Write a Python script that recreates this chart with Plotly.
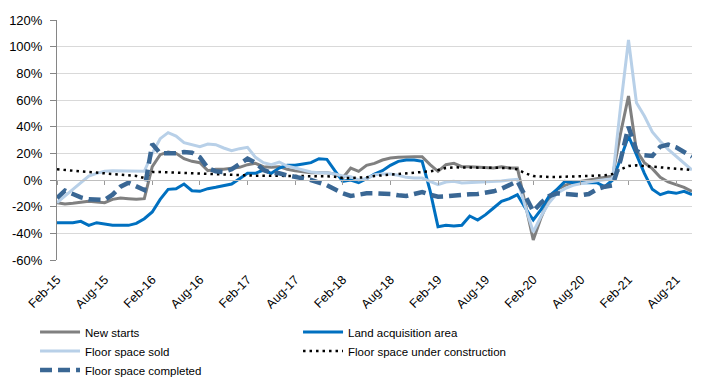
import pandas as pd
import plotly.graph_objects as go

months = pd.date_range("2015-02-01", periods=81, freq="MS").strftime("%b-%y").tolist()

new_starts = [-17, -18, -17.5, -16.5, -16, -16.5, -17, -14.5, -13.5, -14, -14.5, -14,
              10, 19, 21, 20, 16, 14, 13, 7, 8, 8, 8.5, 9.5, 11.5, 12.5, 10, 9.5, 10, 8,
              7, 6, 5.5, 5.5, 5.5, 4.5, 1.5, 9, 6.5, 11, 12.5, 15, 16.5, 17, 17.5, 17.5,
              17.5, 11.5, 6.5, 11.5, 12.5, 10, 10, 9.5, 9, 9, 10, 9, 9, -18, -45, -28,
              -14, -7, -4, -2, -1, 0, 1, 2.5, 3, 35, 63, 22, 13, 8.5, 2, -1.5, -3.5, -5.5, -8.5]

land_acq = [-32, -32, -32, -31, -34, -32, -33, -34, -34, -34, -32.5, -29, -24, -14.5,
            -7, -6.5, -3, -8, -8.5, -6.5, -5.5, -4, -3, 1, 5, 5, 7.5, 5, 9, 11, 11, 12, 13,
            16, 15.5, 7, -1, 0, -2, 1, 4.5, 7, 11, 14, 15, 15, 14, -8, -35, -34, -34.5, -34,
            -27, -30, -26, -21, -16, -14, -11, -21, -30, -22, -12, -7, -1, -2, -2, -2, -2,
            -5, 0, 16, 33, 19, 5, -7, -11, -9, -10, -8.5, -11]

floor_sold = [-17, -12, -7, -2, 3, 5, 6.5, 7, 7, 7, 7, 6.5, 20, 31, 35.5, 33, 28, 26.5,
              25, 27, 26.5, 24, 22, 23.5, 24.5, 17, 13, 11.5, 13.5, 10.5, 9, 8, 6, 5.5, 5.5,
              4.5, 3, 2.5, 0, 1, 4, 4.5, 4.5, 3.5, 2, 1.5, 1.5, -1, -3.5, -1.5, -1, -2.25,
              -2, -1.75, -1.25, -1, -0.75, 0, 0.5, -20, -39, -27, -17, -10, -6.5, -4, -2.5,
              -1.5, -0.5, 0, 1, 55, 105, 58, 48, 36, 29, 23, 18, 12.5, 7.5]

under_constr = [8, 7.5, 7, 6.5, 6, 5.5, 5, 4.5, 4, 3.5, 3, 1.5, 6, 6, 5.75, 5.5, 5.25, 5,
                4.75, 4.5, 4, 4, 3.5, 3.5, 3.25, 3.25, 3.25, 3.25, 3.25, 3, 3, 2.75, 2.75,
                2.75, 2.75, 2.5, 1.5, 1.5, 1.5, 2, 3, 3.5, 4, 4, 4.5, 5, 5.5, 6.5, 7.5, 9,
                9.5, 9.5, 9.5, 9.5, 9.5, 9, 9, 9, 8, 5, 3, 2.5, 2.25, 2.25, 2.5, 2.75, 2.75,
                3, 3, 3.5, 4.5, 8, 10.5, 11, 10.5, 10, 9.5, 9, 8.5, 8, 7.5]

completed = [-13.5, -8, -10.5, -13, -14.5, -14.75, -15, -11, -5, -2, -5, -7.5, 27, 20,
             20, 20, 21, 20.5, 17, 9, 6.5, 6, 8, 12.5, 16, 13, 7.5, 5.5, 5, 3.5, 2.5, 1.5,
             0, -2, -4, -7, -10, -12, -11, -10, -10, -10, -10.5, -11.5, -12, -10.5, -9, -11,
             -12.5, -12.25, -11.5, -11, -10.75, -10.5, -9.5, -8.5, -6.5, -4, -1, -12, -23.5,
             -17, -12, -10, -10.5, -11, -11.5, -10.5, -7, -5, -4, 15, 40, 22, 18.5, 18, 25,
             26.5, 24.5, 21, 17.5]

y_ticks = [-60, -40, -20, 0, 20, 40, 60, 80, 100, 120]
y_labels = ["-60%", "-40%", "-20%", "0%", "20%", "40%", "60%", "80%", "100%", "120%"]
x_tick_labels = months[::6]

FONT = "Liberation Sans, Arial, sans-serif"

fig = go.Figure()
fig.add_trace(go.Scatter(x=months, y=new_starts, name="New starts", mode="lines",
                         line=dict(color="#808080", width=3)))
fig.add_trace(go.Scatter(x=months, y=land_acq, name="Land acquisition area", mode="lines",
                         line=dict(color="#0070C0", width=3)))
fig.add_trace(go.Scatter(x=months, y=floor_sold, name="Floor space sold", mode="lines",
                         line=dict(color="#B8D0E8", width=3)))
fig.add_trace(go.Scatter(x=months, y=under_constr, name="Floor space under construction",
                         mode="lines", line=dict(color="#000000", width=2.5, dash="2.5px,4px")))
fig.add_trace(go.Scatter(x=months, y=completed, name="Floor space completed", mode="lines",
                         line=dict(color="#3A6794", width=4.5, dash="12px,6px")))
# helper trace carrying the tick marks on the 0% line
fig.add_trace(go.Scatter(x=months, y=[None] * len(months), xaxis="x2", showlegend=False,
                         hoverinfo="skip", mode="lines"))

fig.update_layout(
    width=715, height=384,
    margin=dict(l=57, r=23, t=20, b=124, autoexpand=False),
    paper_bgcolor="white", plot_bgcolor="white",
    font=dict(family=FONT, color="#000000"),
    xaxis=dict(type="category", categoryorder="array", categoryarray=months,
               range=[0, len(months) - 1], tickmode="array", tickvals=x_tick_labels,
               ticktext=x_tick_labels, tickangle=-45, showgrid=False, showline=False,
               ticks="", ticklabelstandoff=9, automargin=False,
               tickfont=dict(family=FONT, size=12.5, color="#000"),
               zeroline=False),
    xaxis2=dict(type="category", categoryorder="array", categoryarray=months,
                range=[0, len(months) - 1], overlaying="x", anchor="free", position=1 / 3,
                tickmode="array", tickvals=x_tick_labels, showticklabels=False,
                ticks="outside", ticklen=4, tickcolor="#9a9a9a", showline=True,
                linecolor="#bfbfbf", linewidth=1, showgrid=False, zeroline=False,
                automargin=False),
    yaxis=dict(range=[-60, 120], tickmode="array", tickvals=y_ticks, ticktext=y_labels,
               showgrid=True, gridcolor="#d9d9d9", gridwidth=1, zeroline=False,
               showline=True, linecolor="#868686", linewidth=1, ticks="outside",
               ticklen=6, tickcolor="#868686", ticklabelstandoff=5, automargin=False,
               tickfont=dict(family=FONT, size=13, color="#000")),
    legend=dict(orientation="h", xref="container", yref="container", x=0.049, y=0.173,
                xanchor="left", yanchor="top", entrywidth=208, entrywidthmode="pixels",
                itemwidth=40, font=dict(family=FONT, size=11.5, color="#000"),
                bgcolor="rgba(0,0,0,0)", traceorder="normal"),
    showlegend=True,
)

fig.write_html("out.html", config={"displayModeBar": False},
               post_script="document.body.style.margin='0';")
